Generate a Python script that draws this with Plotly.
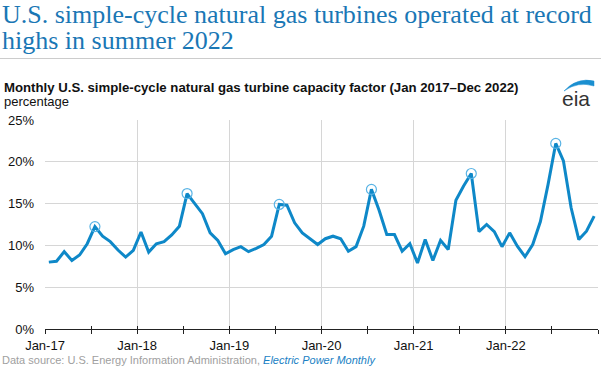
import numpy as np
import plotly.graph_objects as go

W, H = 601, 368
ML, MR, MT, MB = 45, 3, 120, 39

years = [2017, 2018, 2019, 2020, 2021, 2022]
month_names = ["Jan", "Feb", "Mar", "Apr", "May", "Jun", "Jul", "Aug", "Sep", "Oct", "Nov", "Dec"]
months = [f"{m}-{str(y)[2:]}" for y in years for m in month_names]

cf_2017 = [8.0, 8.1, 9.25, 8.2, 8.85, 10.2, 12.25, 11.1, 10.45, 9.45, 8.6, 9.4]
cf_2018 = [11.6, 9.2, 10.2, 10.45, 11.25, 12.3, 16.2, 15.0, 13.8, 11.5, 10.6, 9.0]
cf_2019 = [9.5, 9.85, 9.25, 9.65, 10.1, 11.1, 14.9, 14.8, 12.7, 11.5, 10.85, 10.1]
cf_2020 = [10.8, 11.1, 10.8, 9.3, 9.85, 12.3, 16.7, 14.2, 11.3, 11.3, 9.3, 10.2]
cf_2021 = [7.9, 10.7, 8.2, 10.6, 9.5, 15.4, 17.1, 18.6, 11.65, 12.5, 11.65, 9.85]
cf_2022 = [11.5, 9.9, 8.65, 10.1, 12.85, 17.3, 22.2, 20.1, 14.5, 10.7, 11.7, 13.5]
series = [cf_2017, cf_2018, cf_2019, cf_2020, cf_2021, cf_2022]
values = [v for s in series for v in s]

x_tick_labels = ["Jan-17", "Jan-18", "Jan-19", "Jan-20", "Jan-21", "Jan-22", ""]
y_ticks = [0, 5, 10, 15, 20, 25]

x = np.arange(len(values)) + 0.5
peak_idx = [12 * i + int(np.argmax(s)) for i, s in enumerate(series)]

pw, ph = W - ML - MR, H - MT - MB


def px(X, Y):
    return (X - ML) / pw, (H - MB - Y) / ph


LINE = "#0e88c8"
fig = go.Figure()
fig.add_trace(go.Scatter(x=x, y=values, mode="lines", line=dict(color=LINE, width=3),
                         hoverinfo="skip", showlegend=False))
fig.add_trace(go.Scatter(x=x[peak_idx], y=[values[i] for i in peak_idx], mode="markers",
                         marker=dict(symbol="circle-open", size=10, color="#5ab4e5",
                                     line=dict(width=1.2)),
                         hoverinfo="skip", showlegend=False))
fig.add_trace(go.Scatter(x=[0], y=[0], xaxis="x2", mode="markers", opacity=0,
                         hoverinfo="skip", showlegend=False))

fig.update_layout(
    width=W, height=H, margin=dict(l=ML, r=MR, t=MT, b=MB),
    paper_bgcolor="white", plot_bgcolor="white",
    font=dict(family="Liberation Sans, Arial, sans-serif", size=13, color="#222"),
    xaxis=dict(range=[0, 72], tickvals=list(range(0, 73, 12)), ticktext=x_tick_labels,
               showgrid=True, gridcolor="#d6d6d6", gridwidth=1,
               showline=True, linecolor="#222", linewidth=1,
               ticks="outside", ticklen=4, tickcolor="#222",
               minor=dict(dtick=6, tick0=0, ticks="outside", ticklen=4, tickcolor="#222", showgrid=False),
               zeroline=False, tickfont=dict(size=13, color="#111")),
    xaxis2=dict(range=[0, 72], overlaying="x", anchor="y", tickvals=list(range(0, 73, 6)),
                showticklabels=False, ticks="inside", ticklen=3, tickcolor="#222",
                showgrid=False, zeroline=False, showline=False),
    yaxis=dict(range=[0, 25], tickvals=y_ticks, ticktext=[f"{v}%" for v in y_ticks],
               showgrid=True, gridcolor="#d6d6d6", gridwidth=1, zeroline=False,
               ticks="", ticklabelstandoff=10, tickfont=dict(size=13, color="#111")),
)

SERIF = "Liberation Serif, Times New Roman, serif"
TITLE_C = "#1a77b5"
ann = []
tx, ty = px(0, 15)
ann.append(dict(text="U.S. simple-cycle natural gas turbines operated at record", x=tx, y=ty,
                xanchor="left", yanchor="middle", font=dict(family=SERIF, size=26, color=TITLE_C)))
tx, ty = px(0, 41)
ann.append(dict(text="highs in summer 2022", x=tx, y=ty, xanchor="left", yanchor="middle",
                font=dict(family=SERIF, size=26, color=TITLE_C)))
tx, ty = px(2, 87.5)
ann.append(dict(text="<b>Monthly U.S. simple-cycle natural gas turbine capacity factor (Jan 2017\u2013Dec 2022)</b>",
                x=tx, y=ty, xanchor="left", yanchor="middle", font=dict(size=13.2, color="#111")))
tx, ty = px(2, 101)
ann.append(dict(text="percentage", x=tx, y=ty, xanchor="left", yanchor="middle",
                font=dict(size=13, color="#111")))
tx, ty = px(0, 359.5)
ann.append(dict(text="Data source: U.S. Energy Information Administration, "
                     "<i><span style='color:#1a7fc4'>Electric Power Monthly</span></i>",
                x=tx, y=ty, xanchor="left", yanchor="middle", font=dict(size=11, color="#a0a0a0")))
tx, ty = px(592, 98.5)
ann.append(dict(text="eia", x=tx, y=ty, xanchor="right", yanchor="middle",
                font=dict(size=21, color="#333")))
for a in ann:
    a.update(xref="paper", yref="paper", showarrow=False)
fig.update_layout(annotations=ann)

# separator line and logo swoosh
x0, y0 = px(0, 58.5)
x1, _ = px(W, 58.5)
shapes = [dict(type="line", xref="paper", yref="paper", x0=x0, x1=x1, y0=y0, y1=y0,
               line=dict(color="#cccccc", width=1))]
p = [px(*q) for q in [(564, 91), (577, 77), (594, 81), (594, 86), (578, 81), (564, 91)]]
path = (f"M {p[0][0]},{p[0][1]} Q {p[1][0]},{p[1][1]} {p[2][0]},{p[2][1]} "
        f"L {p[3][0]},{p[3][1]} Q {p[4][0]},{p[4][1]} {p[5][0]},{p[5][1]} Z")
shapes.append(dict(type="path", xref="paper", yref="paper", path=path,
                   fillcolor="#1a8fd0", line=dict(color="#1a8fd0", width=0.5)))
fig.update_layout(shapes=shapes)

fig.write_html("out.html", config={"displayModeBar": False},
               post_script="document.body.style.margin='0';")
